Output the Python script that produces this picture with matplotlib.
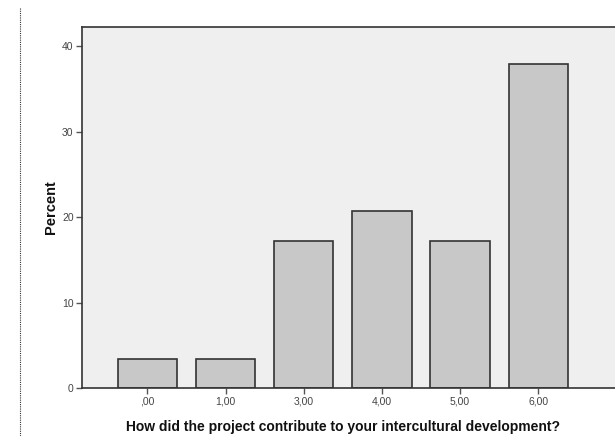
import matplotlib.pyplot as plt
from matplotlib.lines import Line2D

plt.rcParams['font.family'] = ['Liberation Sans', 'DejaVu Sans']

categories = [',00', '1,00', '3,00', '4,00', '5,00', '6,00']
percent = [3.45, 3.45, 17.24, 20.69, 17.24, 37.93]
yticks = [0, 10, 20, 30, 40]

fig = plt.figure(figsize=(6.15, 4.36), dpi=100)
ax = fig.add_axes([0.1333, 0.1094, 0.8667, 0.8294])
ax.set_facecolor('#efefef')

pos = range(len(categories))
ax.bar(pos, percent, width=0.76, color='#c8c8c8', edgecolor='#333333', linewidth=1.2)

ax.set_xlim(-0.835, 5.98)
ax.set_ylim(0, 42.3)
ax.set_xticks(list(pos))
ax.set_xticklabels(categories)
ax.set_yticks(yticks)
ax.set_yticklabels([str(t) for t in yticks])
ax.tick_params(axis='both', labelsize=7.5, colors='#555555', length=4, width=1, pad=2)
ax.tick_params(axis='both', labelcolor='#444444')

for side in ['left', 'bottom', 'top']:
    ax.spines[side].set_color('#333333')
    ax.spines[side].set_linewidth(1.2)
ax.spines['right'].set_visible(False)

ax.set_ylabel('Percent', fontsize=10.5, fontweight='bold', color='#111111')
ax.set_xlabel('How did the project contribute to your intercultural development?',
              fontsize=10, fontweight='bold', color='#111111')
ax.yaxis.set_label_coords(-0.045, 0.5)
ax.xaxis.set_label_coords(0.489, -0.088)

fig.add_artist(Line2D([20 / 615, 20 / 615], [1 - 8 / 436, 0], transform=fig.transFigure,
                      color='#333333', linestyle=(0, (1, 1)), linewidth=0.8))

fig.savefig('out.png')
